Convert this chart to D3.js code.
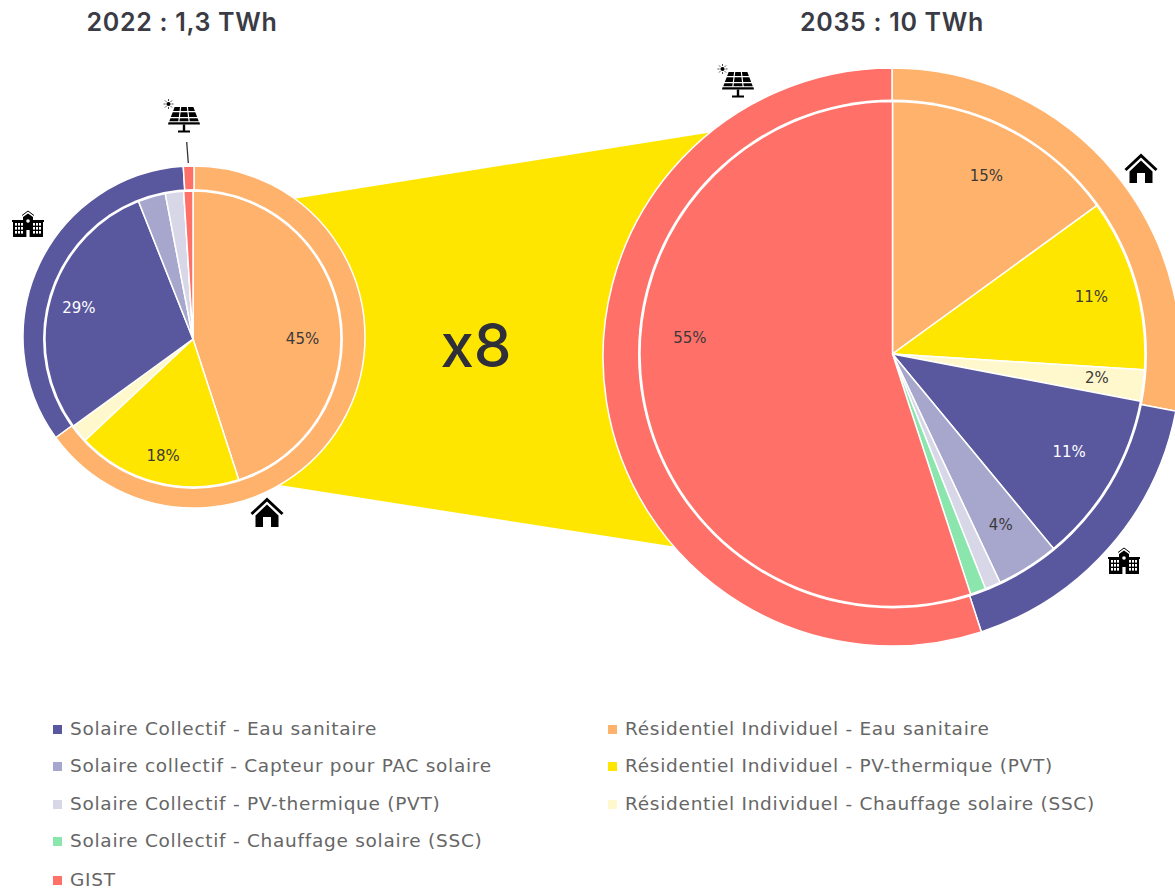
<!DOCTYPE html>
<html lang="fr">
<head>
<meta charset="utf-8">
<script src="https://cdn.jsdelivr.net/npm/d3@7/dist/d3.min.js"></script>
<style>
  html, body { margin: 0; padding: 0; background: #fff; }
  svg { display: block; }
</style>
</head>
<body>
<svg id="chart" width="1175" height="890"></svg>
<script>
// Sector names and colours, in legend order
const sectors = [
  "Solaire Collectif - Eau sanitaire",
  "Solaire collectif - Capteur pour PAC solaire",
  "Solaire Collectif - PV-thermique (PVT)",
  "Solaire Collectif - Chauffage solaire (SSC)",
  "GIST",
  "Résidentiel Individuel - Eau sanitaire",
  "Résidentiel Individuel - PV-thermique (PVT)",
  "Résidentiel Individuel - Chauffage solaire (SSC)"
];
const sectorColors = ["#59589e", "#a7a6cc", "#d7d7e8", "#8be6ad", "#ff7069", "#ffb26b", "#ffe600", "#fff8cc"];

// Inner ring order, clockwise from twelve o'clock
const innerOrder = [5, 6, 7, 0, 1, 2, 3, 4];
const inner2022 = [45, 18, 2, 29, 3, 2, 0, 1];
const inner2035 = [15, 11, 2, 11, 4, 1, 1, 55];
const innerLabels2022 = ["45%", "18%", "", "29%", "", "", "", ""];
const innerLabels2035 = ["15%", "11%", "2%", "11%", "4%", "", "", "55%"];
const labelColors = ["#3a3a3a", "#3a3a3a", "#3a3a3a", "#ffffff", "#3a3a3a", "#3a3a3a", "#3a3a3a", "#3a3a3a"];
// Label placement per slice: share of the radius, and turn in degrees away from the slice middle
const labelRadius2022 = [0.74, 0.81, 0.8, 0.8, 0.8, 0.8, 0.8, 0.8];
const labelTurn2022 = [9, 0, 0, -0.8, 0, 0, 0, 0];
const labelRadius2035 = [0.8, 0.82, 0.815, 0.8, 0.8, 0.8, 0.8, 0.805];
const labelTurn2035 = [0.7, 0, -0.5, -1.6, 0, 0, 0, 13.5];

// Outer ring groups: residential, collective, GIST
const outerColors = ["#ffb26b", "#59589e", "#ff7069"];
const outer2022 = [65, 34, 1];
const outer2035 = [28, 17, 55];

const titles = ["2022 : 1,3 TWh", "2035 : 10 TWh"];
const ratioLabel = "x8";

const svg = d3.select("#chart");
const FONT = "'DejaVu Sans', sans-serif";
const HEAD_FONT = "Inter, sans-serif";

const pies = [
  { inner: inner2022, labels: innerLabels2022, radius: labelRadius2022, turn: labelTurn2022, outer: outer2022,
    cx: 193, cy: 339, ox: 194, oy: 337, rIn: 148, rOut: 171, title: titles[0], titleX: 182,
    bandAngles: [36, 150] },
  { inner: inner2035, labels: innerLabels2035, radius: labelRadius2035, turn: labelTurn2035, outer: outer2035,
    cx: 892.5, cy: 354, ox: 892, oy: 357, rIn: 252.5, rOut: 289, title: titles[1], titleX: 892,
    bandAngles: [-39, 229] }
];

// Yellow band joining the two pies, drawn underneath them
const onCircle = (p, deg) => {
  const a = deg * Math.PI / 180;
  return [p.ox + p.rOut * Math.sin(a), p.oy - p.rOut * Math.cos(a)];
};
svg.append("path")
  .attr("fill", "#ffe600")
  .attr("d", d3.line()([
    onCircle(pies[0], pies[0].bandAngles[0]),
    onCircle(pies[1], pies[1].bandAngles[0]),
    onCircle(pies[1], pies[1].bandAngles[1]),
    onCircle(pies[0], pies[0].bandAngles[1])
  ]) + "Z");

const pieLayout = d3.pie().sort(null).value(d => d);

pies.forEach(p => {
  // Outer ring
  const outerArc = d3.arc().innerRadius(p.rIn - 30).outerRadius(p.rOut);
  svg.append("g").attr("transform", `translate(${p.ox},${p.oy})`)
    .selectAll("path").data(pieLayout(p.outer)).join("path")
    .attr("d", outerArc)
    .attr("fill", (d, i) => outerColors[i])
    .attr("stroke", "#fff").attr("stroke-width", 1.5);

  // White separator disc, then inner pie
  svg.append("circle").attr("cx", p.cx).attr("cy", p.cy).attr("r", p.rIn + 2).attr("fill", "#fff");

  const innerArc = d3.arc().innerRadius(0).outerRadius(p.rIn);
  const g = svg.append("g").attr("transform", `translate(${p.cx},${p.cy})`);
  const arcs = pieLayout(p.inner);
  g.selectAll("path").data(arcs).join("path")
    .attr("d", innerArc)
    .attr("fill", (d, i) => sectorColors[innerOrder[i]])
    .attr("stroke", "#fff").attr("stroke-width", 1.5);

  g.selectAll("text").data(arcs).join("text")
    .attr("transform", (d, i) => {
      const a = (d.startAngle + d.endAngle) / 2 + p.turn[i] * Math.PI / 180;
      const r = p.rIn * p.radius[i];
      return `translate(${r * Math.sin(a)},${-r * Math.cos(a)})`;
    })
    .attr("text-anchor", "middle").attr("dy", "0.36em")
    .attr("font-family", FONT).attr("font-size", 15)
    .attr("fill", (d, i) => labelColors[i])
    .text((d, i) => p.labels[i]);

  svg.append("text").attr("x", p.titleX).attr("y", 31)
    .attr("text-anchor", "middle")
    .attr("font-family", HEAD_FONT).attr("font-size", 25).attr("font-weight", 600)
    .attr("letter-spacing", "0.7").attr("fill", "#3a3b45")
    .text(p.title);
});

svg.append("text").attr("x", 476).attr("y", 367)
  .attr("text-anchor", "middle")
  .attr("font-family", HEAD_FONT).attr("font-size", 60).attr("font-weight", 500).attr("fill", "#2e2f3a")
  .text(ratioLabel);

// Pictograms, each drawn in a local box centred on its origin
function house(x, y) {
  const g = svg.append("g").attr("transform", `translate(${x},${y})`);
  g.append("path").attr("fill", "#000").attr("d", "M-16.5,1 L0,-14.5 L16.5,1 L14.5,3 L0,-10.5 L-14.5,3 Z");
  g.append("path").attr("fill", "#000").attr("d", "M-11.5,3.5 L0,-7.5 L11.5,3.5 V15 H4 V5 H-4 V15 H-11.5 Z");
}
function school(x, y) {
  const g = svg.append("g").attr("transform", `translate(${x},${y})`);
  g.append("path").attr("fill", "#000")
    .attr("d", "M-16,-5 H-5 V-8 L0,-11.5 L5,-8 V-5 H16 V-3 H15 V12 H-15 V-3 H-16 Z");
  g.append("path").attr("fill", "none").attr("stroke", "#000").attr("stroke-width", 1)
    .attr("d", "M-6,-9.5 L0,-14 L6,-9.5");
  const cells = d3.cross([-13, -10, -7, 5, 8, 11], [-2, 2, 6]);
  g.selectAll("rect.w").data(cells).join("rect")
    .attr("x", d => d[0]).attr("y", d => d[1])
    .attr("width", 2).attr("height", 2.6).attr("fill", "#fff");
  g.append("rect").attr("x", -1.6).attr("y", 5).attr("width", 3.2).attr("height", 7).attr("fill", "#fff");
  g.append("circle").attr("cx", 0).attr("cy", -4).attr("r", 1.8).attr("fill", "#fff");
}
function panel(x, y) {
  const g = svg.append("g").attr("transform", `translate(${x},${y})`);
  // Perspective grid of cells: half width grows with depth down the panel
  const halfWidth = yy => 10 + (yy + 12) * 0.375;
  const rowEdges = [[-12, -8], [-6.8, -2], [-0.8, 2.2]];
  rowEdges.forEach(([y0, y1]) => {
    [0, 1, 2].forEach(c => {
      const gap = 0.6;
      const pt = (u, yy) => [(-1 + 2 * u) * halfWidth(yy), yy];
      g.append("path").attr("fill", "#000").attr("d", d3.line()([
        pt(c / 3, y0).map((v, k) => k ? v : v + gap),
        pt((c + 1) / 3, y0).map((v, k) => k ? v : v - gap),
        pt((c + 1) / 3, y1).map((v, k) => k ? v : v - gap),
        pt(c / 3, y1).map((v, k) => k ? v : v + gap)
      ]) + "Z");
    });
  });
  g.append("path").attr("fill", "#000").attr("d", "M-15.5,3.3 H15.5 L16,5.5 H-16 Z");
  g.append("path").attr("fill", "#000").attr("d", "M-1.2,5.5 H1.2 V11.5 H6 V13.5 H-6 V11.5 H-1.2 Z");
  g.append("circle").attr("cx", -15.5).attr("cy", -15).attr("r", 2.1).attr("fill", "#000");
  const rayAngles = d3.range(8).map(i => i * 45);
  g.selectAll("line").data(rayAngles).join("line")
    .attr("x1", a => -15.5 + 3 * Math.cos(a * Math.PI / 180))
    .attr("y1", a => -15 + 3 * Math.sin(a * Math.PI / 180))
    .attr("x2", a => -15.5 + 5 * Math.cos(a * Math.PI / 180))
    .attr("y2", a => -15 + 5 * Math.sin(a * Math.PI / 180))
    .attr("stroke", "#222").attr("stroke-width", 0.8);
}
house(267, 512);
school(28, 225);
panel(184, 119);
svg.append("line").attr("x1", 186.7).attr("y1", 142).attr("x2", 188.3).attr("y2", 163)
  .attr("stroke", "#333").attr("stroke-width", 1.3);
house(1141, 168);
school(1124, 562);
panel(738, 84);

// Legend in two columns
const legendRows = [729, 766, 804, 841, 880];
const legendItems = [
  { s: 0, x: 52, r: 0 }, { s: 1, x: 52, r: 1 }, { s: 2, x: 52, r: 2 }, { s: 3, x: 52, r: 3 }, { s: 4, x: 52, r: 4 },
  { s: 5, x: 607, r: 0 }, { s: 6, x: 607, r: 1 }, { s: 7, x: 607, r: 2 }
];
const legend = svg.append("g");
legend.selectAll("rect").data(legendItems).join("rect")
  .attr("x", d => d.x + 1).attr("y", d => legendRows[d.r] - 4)
  .attr("width", 9).attr("height", 9)
  .attr("fill", d => sectorColors[d.s]);
legend.selectAll("text").data(legendItems).join("text")
  .attr("x", d => d.x + 18).attr("y", d => legendRows[d.r] + 6)
  .attr("font-family", FONT).attr("font-size", 18.5).attr("letter-spacing", "0.72").attr("fill", "#666666")
  .text(d => sectors[d.s]);
</script>
</body>
</html>
